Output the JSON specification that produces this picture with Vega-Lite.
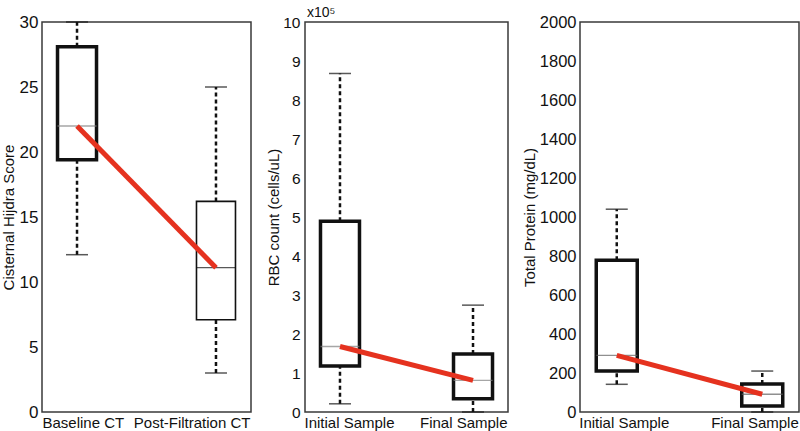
{
  "$schema": "https://vega.github.io/schema/vega-lite/v6.json",
  "padding": {"top": 5, "left": 0, "right": 0, "bottom": 0},
  "background": "white",
  "bounds": "flush",
  "spacing": 18,
  "config": {
    "font": "Liberation Sans",
    "view": {"stroke": "#3a3a3a", "strokeWidth": 1.5},
    "axis": {"domain": false, "ticks": false, "grid": false, "labelColor": "#111", "titleColor": "#111", "titleFontWeight": "normal", "titleFontSize": 15, "labelOverlap": false, "labelBound": false},
    "axisX": {"labelAngle": 0, "labelFontSize": 15, "labelPadding": 3, "title": null},
    "axisY": {"format": "d", "labelOverlap": false}
  },
  "datasets": {
    "ct": [
      {"group": "Baseline CT", "lower": 12.1, "q1": 19.4, "median": 22.0, "q3": 28.1, "upper": 30},
      {"group": "Post-Filtration CT", "lower": 3.0, "q1": 7.1, "median": 11.1, "q3": 16.2, "upper": 25.0}
    ],
    "rbc": [
      {"group": "Initial Sample", "lower": 0.21, "q1": 1.18, "median": 1.68, "q3": 4.89, "upper": 8.68},
      {"group": "Final Sample", "lower": 0, "q1": 0.34, "median": 0.81, "q3": 1.49, "upper": 2.74}
    ],
    "prot": [
      {"group": "Initial Sample", "lower": 142, "q1": 210, "median": 290, "q3": 778, "upper": 1040},
      {"group": "Final Sample", "lower": 0, "q1": 31, "median": 91, "q3": 144, "upper": 210}
    ]
  },
  "hconcat": [
    {
      "width": 209, "height": 390,
      "data": {"name": "ct"},
      "encoding": {
        "x": {"field": "group", "type": "nominal", "sort": null, "scale": {"type": "point", "padding": 0.252},
          "axis": {"labelAlign": {"condition": {"test": "datum.index == 0", "value": "left"}, "value": "right"},
                   "labelOffset": {"condition": {"test": "datum.index == 0", "value": -35}, "value": 34}}}
      },
      "layer": [
        {"mark": {"type": "rule", "strokeDash": [4, 3], "strokeWidth": 2.5, "color": "#111"},
         "encoding": {"y": {"field": "lower", "type": "quantitative", "title": "Cisternal Hijdra Score", "scale": {"domain": [0, 30], "nice": false},
           "axis": {"values": [0, 5, 10, 15, 20, 25, 30], "tickCount": 12, "labelOverlap": false, "labelFontSize": 17, "labelPadding": 4, "titlePadding": 3}}, "y2": {"field": "q1"}}},
        {"mark": {"type": "rule", "strokeDash": [4, 3], "strokeWidth": 2.5, "color": "#111"},
         "encoding": {"y": {"field": "q3", "type": "quantitative", "title": "Cisternal Hijdra Score"}, "y2": {"field": "upper"}}},
        {"mark": {"type": "tick", "size": 22, "thickness": 1.5, "color": "#111"},
         "encoding": {"y": {"field": "lower", "type": "quantitative", "title": "Cisternal Hijdra Score"}}},
        {"mark": {"type": "tick", "size": 22, "thickness": 1.5, "color": "#111"},
         "encoding": {"y": {"field": "upper", "type": "quantitative", "title": "Cisternal Hijdra Score"}}},
        {"mark": {"type": "bar", "width": 39, "fill": "white", "stroke": "#111"},
         "encoding": {"y": {"field": "q1", "type": "quantitative", "title": "Cisternal Hijdra Score"}, "y2": {"field": "q3"},
           "strokeWidth": {"condition": {"test": "datum.group == 'Post-Filtration CT'", "value": 1.6}, "value": 3.5}}},
        {"mark": {"type": "tick", "size": 39, "thickness": 1.3},
         "encoding": {"y": {"field": "median", "type": "quantitative", "title": "Cisternal Hijdra Score"},
           "color": {"condition": {"test": "datum.group == 'Post-Filtration CT'", "value": "#111"}, "value": "#808080"}}},
        {"mark": {"type": "line", "color": "#e5321f", "strokeWidth": 5},
         "encoding": {"y": {"field": "median", "type": "quantitative", "title": "Cisternal Hijdra Score"}}}
      ]
    },
    {
      "width": 18, "height": 390,
      "data": {"values": [{"a": 0}]},
      "mark": {"type": "point", "opacity": 0},
      "encoding": {},
      "view": {"stroke": null}
    },
    {
      "width": 203, "height": 390,
      "data": {"name": "rbc"},
      "encoding": {
        "x": {"field": "group", "type": "nominal", "sort": null, "scale": {"type": "point", "padding": 0.263},
          "axis": {"labelAlign": {"condition": {"test": "datum.index == 0", "value": "left"}, "value": "right"},
                   "labelOffset": {"condition": {"test": "datum.index == 0", "value": -36}, "value": 34}}}
      },
      "layer": [
        {"mark": {"type": "rule", "strokeDash": [4, 3], "strokeWidth": 2.5, "color": "#111"},
         "encoding": {"y": {"field": "lower", "type": "quantitative", "title": "RBC count (cells/uL)", "scale": {"domain": [0, 10], "nice": false},
           "axis": {"values": [0, 1, 2, 3, 4, 5, 6, 7, 8, 9, 10], "tickCount": 12, "labelOverlap": false, "labelFontSize": 15.5, "labelPadding": 5, "titlePadding": 1}}, "y2": {"field": "q1"}}},
        {"mark": {"type": "rule", "strokeDash": [4, 3], "strokeWidth": 2.5, "color": "#111"},
         "encoding": {"y": {"field": "q3", "type": "quantitative", "title": "RBC count (cells/uL)"}, "y2": {"field": "upper"}}},
        {"mark": {"type": "tick", "size": 22, "thickness": 1.5, "color": "#111"},
         "encoding": {"y": {"field": "lower", "type": "quantitative", "title": "RBC count (cells/uL)"}}},
        {"mark": {"type": "tick", "size": 22, "thickness": 1.5, "color": "#111"},
         "encoding": {"y": {"field": "upper", "type": "quantitative", "title": "RBC count (cells/uL)"}}},
        {"mark": {"type": "bar", "width": 39, "fill": "white", "stroke": "#111", "strokeWidth": 3.5},
         "encoding": {"y": {"field": "q1", "type": "quantitative", "title": "RBC count (cells/uL)"}, "y2": {"field": "q3"}}},
        {"mark": {"type": "tick", "size": 39, "thickness": 1.3, "color": "#808080"},
         "encoding": {"y": {"field": "median", "type": "quantitative", "title": "RBC count (cells/uL)"}}},
        {"mark": {"type": "line", "color": "#e5321f", "strokeWidth": 5},
         "encoding": {"y": {"field": "median", "type": "quantitative", "title": "RBC count (cells/uL)"}}},
        {"data": {"values": [{"note": "x10⁵", "group": "Initial Sample", "top": 10}]},
         "mark": {"type": "text", "align": "left", "baseline": "alphabetic", "dx": -33, "dy": -5, "fontSize": 14, "color": "#111"},
         "encoding": {"y": {"field": "top", "type": "quantitative", "title": "RBC count (cells/uL)"}, "text": {"field": "note"}}}
      ]
    },
    {
      "width": 36, "height": 390,
      "data": {"values": [{"a": 0}]},
      "mark": {"type": "point", "opacity": 0},
      "encoding": {},
      "view": {"stroke": null}
    },
    {
      "width": 219, "height": 390,
      "data": {"name": "prot"},
      "encoding": {
        "x": {"field": "group", "type": "nominal", "sort": null, "scale": {"type": "point", "padding": 0.2526},
          "axis": {"labelAlign": {"condition": {"test": "datum.index == 0", "value": "left"}, "value": "right"},
                   "labelOffset": {"condition": {"test": "datum.index == 0", "value": -38}, "value": 36}}}
      },
      "layer": [
        {"mark": {"type": "rule", "strokeDash": [4, 3], "strokeWidth": 2.5, "color": "#111"},
         "encoding": {"y": {"field": "lower", "type": "quantitative", "title": "Total Protein (mg/dL)", "scale": {"domain": [0, 2000], "nice": false},
           "axis": {"values": [0, 200, 400, 600, 800, 1000, 1200, 1400, 1600, 1800, 2000], "tickCount": 12, "labelOverlap": false, "labelFontSize": 16.5, "labelPadding": 4, "titlePadding": 2}}, "y2": {"field": "q1"}}},
        {"mark": {"type": "rule", "strokeDash": [4, 3], "strokeWidth": 2.5, "color": "#111"},
         "encoding": {"y": {"field": "q3", "type": "quantitative", "title": "Total Protein (mg/dL)"}, "y2": {"field": "upper"}}},
        {"mark": {"type": "tick", "size": 22, "thickness": 1.5, "color": "#111"},
         "encoding": {"y": {"field": "lower", "type": "quantitative", "title": "Total Protein (mg/dL)"}}},
        {"mark": {"type": "tick", "size": 22, "thickness": 1.5, "color": "#111"},
         "encoding": {"y": {"field": "upper", "type": "quantitative", "title": "Total Protein (mg/dL)"}}},
        {"mark": {"type": "bar", "width": 41, "fill": "white", "stroke": "#111", "strokeWidth": 3.5},
         "encoding": {"y": {"field": "q1", "type": "quantitative", "title": "Total Protein (mg/dL)"}, "y2": {"field": "q3"}}},
        {"mark": {"type": "tick", "size": 41, "thickness": 1.3, "color": "#606060"},
         "encoding": {"y": {"field": "median", "type": "quantitative", "title": "Total Protein (mg/dL)"}}},
        {"mark": {"type": "line", "color": "#e5321f", "strokeWidth": 5},
         "encoding": {"y": {"field": "median", "type": "quantitative", "title": "Total Protein (mg/dL)"}}}
      ]
    }
  ]
}
